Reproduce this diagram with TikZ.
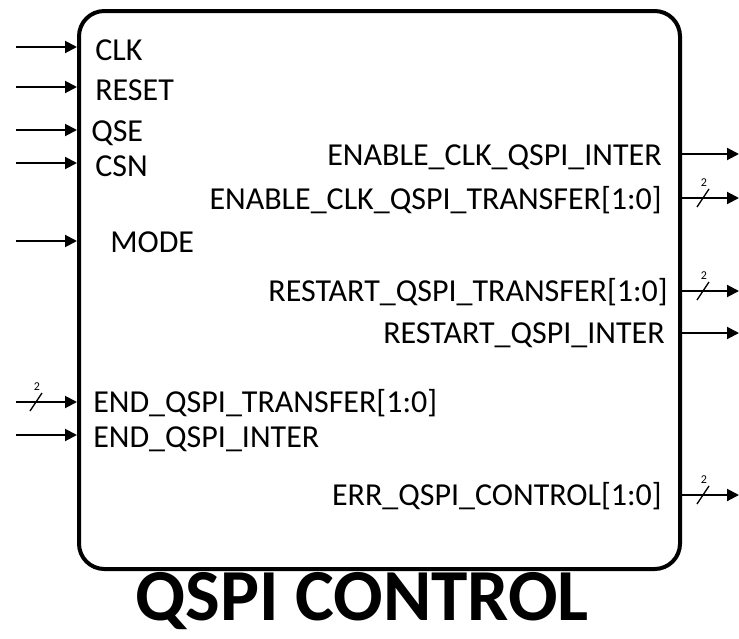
\documentclass[tikz,border=0pt]{standalone}
\usepackage{fontspec}
\setmainfont{Carlito}
\usetikzlibrary{arrows.meta}
\usetikzlibrary{positioning}

\tikzset{
  wire/.style={line width=1.5pt,-{Triangle[length=9pt,width=9pt]}},
  port/.style={font=\fontsize{24}{24}\selectfont,inner sep=0pt},
  busnum/.style={font=\fontsize{9}{9}\selectfont,inner sep=0pt},
  bus/.pic={
    \draw[line width=1pt] (-6,9) -- (6,-9);
    \node[busnum] at (1,-15) {2};
  }
}

\begin{document}
\begin{tikzpicture}[x=0.75pt,y=-0.75pt]
    \useasboundingbox (0,0) rectangle (739,639);
    % block
    \node[draw,line width=3pt,rounded corners=19pt,minimum width=450.75pt,minimum height=418.5pt] (ctrl) at (379.5,290) {};
    \node[font=\bfseries\fontsize{55}{55}\selectfont,inner sep=0pt,anchor=base] (title) at (362,620) {QSPI CONTROL};

    % inputs
    \coordinate (clk-in)   at (16,47);
    \coordinate (rst-in)   at (16,87);
    \coordinate (qse-in)   at (16,130);
    \coordinate (csn-in)   at (16,163);
    \coordinate (mode-in)  at (16,241);
    \coordinate (endt-in)  at (16,402);
    \coordinate (endi-in)  at (16,435);
    \draw[wire] (clk-in)  -- (clk-in -| ctrl.west);
    \draw[wire] (rst-in)  -- (rst-in -| ctrl.west);
    \draw[wire] (qse-in)  -- (qse-in -| ctrl.west);
    \draw[wire] (csn-in)  -- (csn-in -| ctrl.west);
    \draw[wire] (mode-in) -- (mode-in -| ctrl.west);
    \draw[wire] (endt-in) -- (endt-in -| ctrl.west);
    \draw[wire] (endi-in) -- (endi-in -| ctrl.west);
    \pic at (36,402) {bus};
    \node[port,anchor=base west] (clk)  at (95,60)  {CLK};
    \node[port,anchor=base west] (rst)  at (95,100) {RESET};
    \node[port,anchor=base west] (qse)  at (91,141) {QSE};
    \node[port,anchor=base west] (csn)  at (95,176) {CSN};
    \node[port,anchor=base west] (mode) at (110,252) {MODE};
    \node[port,anchor=base west] (endt) at (93,412) {END\_QSPI\_TRANSFER[1:0]};
    \node[port,anchor=base west] (endi) at (93,447) {END\_QSPI\_INTER};

    % outputs
    \coordinate (eni-out) at (739,154);
    \coordinate (ent-out) at (739,198);
    \coordinate (rst-out) at (739,291);
    \coordinate (rsi-out) at (739,333);
    \coordinate (err-out) at (739,495);
    \draw[wire] (eni-out -| ctrl.east) -- (eni-out);
    \draw[wire] (ent-out -| ctrl.east) -- (ent-out);
    \draw[wire] (rst-out -| ctrl.east) -- (rst-out);
    \draw[wire] (rsi-out -| ctrl.east) -- (rsi-out);
    \draw[wire] (err-out -| ctrl.east) -- (err-out);
    \pic at (703,198) {bus};
    \pic at (703,291) {bus};
    \pic at (703,495) {bus};
    \node[port,anchor=base east] (eni) at (662,165) {ENABLE\_CLK\_QSPI\_INTER};
    \node[port,anchor=base east] (ent) at (662,209) {ENABLE\_CLK\_QSPI\_TRANSFER[1:0]};
    \node[port,anchor=base east] (rsto) at (668,301) {RESTART\_QSPI\_TRANSFER[1:0]};
    \node[port,anchor=base east] (rsi) at (665,343) {RESTART\_QSPI\_INTER};
    \node[port,anchor=base east] (err) at (662,505) {ERR\_QSPI\_CONTROL[1:0]};
\end{tikzpicture}
\end{document}
